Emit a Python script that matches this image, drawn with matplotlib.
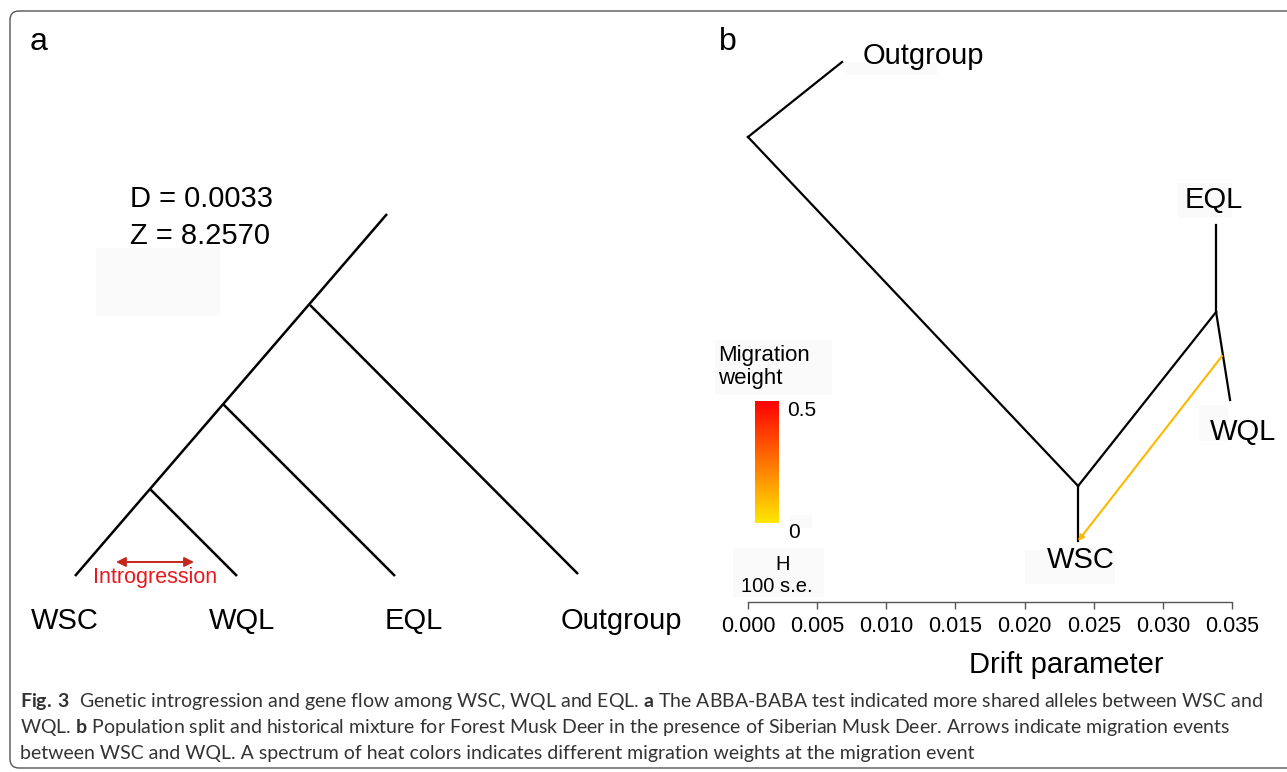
import matplotlib
matplotlib.use('Agg')
import matplotlib.pyplot as plt
import numpy as np
from matplotlib.patches import FancyBboxPatch, Rectangle
from matplotlib.colors import LinearSegmentedColormap

W, H = 1287, 772
plt.rcParams['font.family'] = ['Liberation Sans', 'DejaVu Sans']
plt.rcParams['mathtext.fontset'] = 'custom'
plt.rcParams['mathtext.rm'] = 'Lato'
plt.rcParams['mathtext.bf'] = 'Lato:bold'

# panel a: ABBA-BABA tree (pixel positions)
a_nodes = ['top', 'n1', 'n2', 'n3', 'WSC', 'WQL', 'EQL', 'Outgroup']
a_x = [387, 310, 223, 150, 75, 237, 395, 578]
a_y = [214, 305, 404, 489, 576, 576, 576, 574]
a_edges = [('top', 'WSC'), ('n1', 'Outgroup'), ('n2', 'EQL'), ('n3', 'WQL')]
a_leaves = ['WSC', 'WQL', 'EQL', 'Outgroup']
a_label_x = [65, 242, 414, 621]
D_stat = 0.0033
Z_score = 8.2570

# panel b: treemix tree, x = drift parameter
b_nodes = ['root', 'Outgroup', 'nWSC', 'WSC', 'nQL', 'EQL', 'WQL', 'mig']
b_drift = [0.0, 0.0068, 0.02387, 0.02387, 0.03385, 0.03385, 0.03486, 0.03428]
b_y = [465, 540, 116, 61, 290, 377, 202, 246]
b_edges = [('root', 'Outgroup'), ('root', 'nWSC'), ('nWSC', 'WSC'),
           ('nWSC', 'nQL'), ('nQL', 'EQL'), ('nQL', 'WQL')]
b_labels = ['Outgroup', 'EQL', 'WQL', 'WSC']
b_label_x = [0.01266, 0.03371, 0.0358, 0.02408]
b_label_y = [546, 402, 170, 42]
mig_weight = 0.1
drift_ticks = [0.000, 0.005, 0.010, 0.015, 0.020, 0.025, 0.030, 0.035]

caption = [
    r"$\mathbf{Fig.\,3}$  Genetic introgression and gene flow among WSC, WQL and EQL. $\mathbf{a}$ The ABBA-BABA test indicated more shared alleles between WSC and",
    r"WQL. $\mathbf{b}$ Population split and historical mixture for Forest Musk Deer in the presence of Siberian Musk Deer. Arrows indicate migration events",
    r"between WSC and WQL. A spectrum of heat colors indicates different migration weights at the migration event",
]

fig = plt.figure(figsize=(W / 100, H / 100), dpi=100)
fig.patch.set_facecolor('white')

ax = fig.add_axes([0, 0, 1, 1])
ax.set_xlim(0, W)
ax.set_ylim(H, 0)
ax.axis('off')

# outer frame and faint boxes
ax.add_patch(FancyBboxPatch((10, 11), 1320, 757, boxstyle='round,pad=0,rounding_size=9',
                            fc='none', ec='#555555', lw=1.0))
for bx in [(96, 248, 124, 68), (715, 340, 117, 55), (790, 515, 22, 13), (733, 548, 91, 49),
           (847, 62, 90, 13), (1178, 183, 54, 35), (1199, 405, 29, 36), (1025, 550, 90, 34)]:
    ax.add_patch(Rectangle(bx[:2], bx[2], bx[3], fc='#fafafa', ec='none'))

pos_a = dict(zip(a_nodes, zip(a_x, a_y)))
for p, c in a_edges:
    ax.plot([pos_a[p][0], pos_a[c][0]], [pos_a[p][1], pos_a[c][1]], color='black', lw=1.8,
            solid_capstyle='butt')
for name, lx in zip(a_leaves, a_label_x):
    ax.text(lx, 621, name, ha='center', va='center', fontsize=21)
ax.text(130, 199, 'D = {:.4f}'.format(D_stat), ha='left', va='center', fontsize=21)
ax.text(130, 236, 'Z = {:.4f}'.format(Z_score), ha='left', va='center', fontsize=21)
ax.annotate('', xy=(116, 562), xytext=(194, 562),
            arrowprops=dict(arrowstyle='<|-|>', color='#c4261d', lw=1.4, mutation_scale=14,
                            shrinkA=0, shrinkB=0))
ax.text(155, 577, 'Introgression', ha='center', va='center', fontsize=15.5, color='#e8191e')
ax.text(39, 42, 'a', ha='center', va='center', fontsize=23)
ax.text(728, 42, 'b', ha='center', va='center', fontsize=23)

# caption
for i, line in enumerate(caption):
    ax.text(20, 702 + i * 25.5, line, ha='left', va='center', fontsize=14,
            family='Lato', color='#333333')

# panel b axes
ax_b = fig.add_axes([748 / W, (H - 602) / H, 484 / W, 562 / H])
ax_b.patch.set_alpha(0)
ax_b.set_xlim(0, 0.035)
ax_b.set_ylim(0, 562)
for s in ['top', 'right', 'left']:
    ax_b.spines[s].set_visible(False)
ax_b.spines['bottom'].set_color('#555555')
ax_b.spines['bottom'].set_linewidth(1.0)
ax_b.set_yticks([])
ax_b.set_xticks(drift_ticks)
ax_b.set_xticklabels(['{:.3f}'.format(t) for t in drift_ticks], fontsize=15.5)
ax_b.tick_params(axis='x', direction='out', length=5, width=1.0, color='#555555', pad=5)
ax_b.set_xlabel('Drift parameter', fontsize=21, va='center')
ax_b.xaxis.set_label_coords((1066 - 748) / 484, -63 / 562)

pos_b = dict(zip(b_nodes, zip(b_drift, b_y)))
for p, c in b_edges:
    ax_b.plot([pos_b[p][0], pos_b[c][0]], [pos_b[p][1], pos_b[c][1]], color='black', lw=1.6,
              clip_on=False)
for name, lx, ly in zip(b_labels, b_label_x, b_label_y):
    ax_b.text(lx, ly, name, ha='center', va='center', fontsize=21)

cmap = LinearSegmentedColormap.from_list('heat', ['#ffe600', '#ff0000'])
ax_b.annotate('', xy=pos_b['WSC'], xytext=pos_b['mig'],
              arrowprops=dict(arrowstyle='-|>', color=cmap(mig_weight / 0.5), lw=1.5,
                              mutation_scale=8, shrinkA=0, shrinkB=0))

# colour scale
ax_c = fig.add_axes([755 / W, (H - 523) / H, 24 / W, 122 / H])
ax_c.imshow(np.linspace(0, 0.5, 100)[:, None], cmap=cmap, aspect='auto', origin='lower',
            extent=[0, 1, 0, 0.5])
ax_c.axis('off')
ax.text(718, 367, 'Migration\nweight', ha='left', va='center', fontsize=16, linespacing=1.15)
ax.text(787, 410, '0.5', ha='left', va='center', fontsize=15)
ax.text(788, 533, '0', ha='left', va='center', fontsize=15)
ax.text(783, 565, 'H', ha='center', va='center', fontsize=14.5)
ax.text(777, 586, '100 s.e.', ha='center', va='center', fontsize=14.5)

fig.savefig('out.png', dpi=100)
